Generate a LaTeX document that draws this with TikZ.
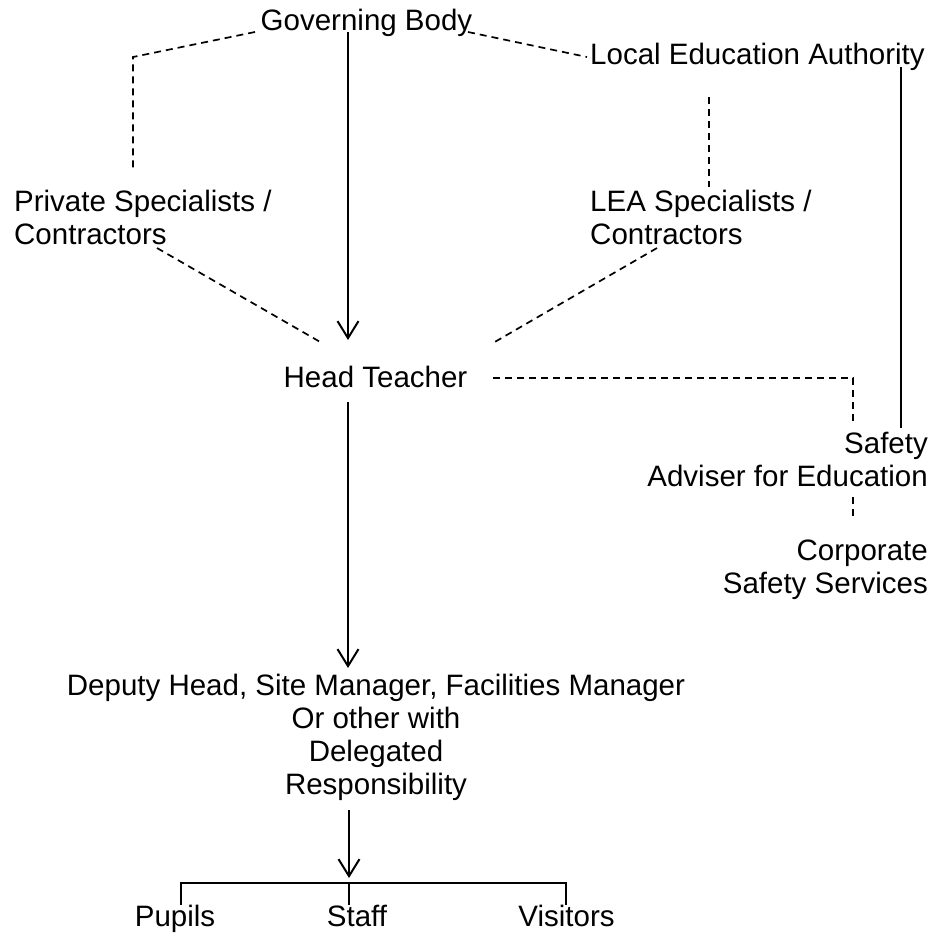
\documentclass[tikz,border=0pt]{standalone}
\usepackage{fontspec}
\setmainfont{Liberation Sans}
\usetikzlibrary{arrows.meta,calc}
\begin{document}
\begin{tikzpicture}[x=1pt,y=-1pt,
  lbl/.style={inner sep=0pt, font=\fontsize{29.5}{33}\selectfont},
  dsh/.style={line width=1.7pt, dash pattern=on 7pt off 5pt},
  sol/.style={line width=2.2pt},
  arr/.style={sol,-{Straight Barb[length=17pt,width=21pt,line width=2pt]}}]
\useasboundingbox (0,0) rectangle (936,932);
% nodes
\node[lbl,anchor=base] (gb) at (366.5,30) {Governing Body};
\node[lbl,anchor=base west] (lea) at (590,64) {Local Education Authority};
\node[lbl,anchor=north west,align=left] (priv) at (14,190) {Private Specialists /\\Contractors};
\node[lbl,anchor=north west,align=left] (leas) at (590,190) {LEA Specialists /\\Contractors};
\node[lbl,anchor=base] (ht) at (375.5,387) {Head Teacher};
\node[lbl,anchor=north east,align=right] (saf) at (928,432) {Safety\\Adviser for Education};
\node[lbl,anchor=north east,align=right] (corp) at (928,540) {Corporate\\Safety Services};
\node[lbl,anchor=north,align=center] (dep) at (376,674) {Deputy Head, Site Manager, Facilities Manager\\Or other with\\Delegated\\Responsibility};
\node[lbl,anchor=base] (pup) at (175,926) {Pupils};
\node[lbl,anchor=base] (stf) at (357,926) {Staff};
\node[lbl,anchor=base] (vis) at (566.5,926) {Visitors};
\coordinate (br) at (349,883);
% connectors
\draw[arr] ($(gb.base)+(-18.5,2)$) -- ($(ht.base)+(-27.5,-47)$);
\draw[dsh] ($(gb.base)+(-111.5,2)$) -- ($(priv.north west)+(119,-133)$) -- ($(priv.north west)+(119,-18)$);
\draw[dsh] ($(gb.base)+(101.5,2)$) -- ($(lea.base west)+(-3,-7)$);
\draw[dsh] ($(lea.base west)+(119,33)$) -- ($(leas.north west)+(119,-3)$);
\draw[sol] ($(lea.base west)+(311,3)$) -- ($(saf.north east)+(-27,-4)$);
\draw[dsh] ($(priv.north west)+(143,58)$) -- ($(ht.base)+(-53.5,-44)$);
\draw[dsh] ($(leas.north west)+(67,58)$) -- ($(ht.base)+(117.5,-44)$);
\draw[dsh] ($(ht.base)+(117.5,-9)$) -| ($(saf.north east)+(-75,-7)$);
\draw[dsh] ($(saf.north east)+(-75,65)$) -- ($(corp.north east)+(-75,-20)$);
\draw[arr] ($(ht.base)+(-27.5,15)$) -- ($(dep.north)+(-28,-6)$);
\draw[arr] ($(dep.north)+(-27,136)$) -- ($(br)+(0,-5)$);
\draw[sol] (br) -| ($(pup.base)+(6,-21)$);
\draw[sol] (br) -| ($(vis.base)+(-0.5,-21)$);
\draw[sol] (br) -- ($(stf.base)+(-8,-21)$);
\end{tikzpicture}
\end{document}
